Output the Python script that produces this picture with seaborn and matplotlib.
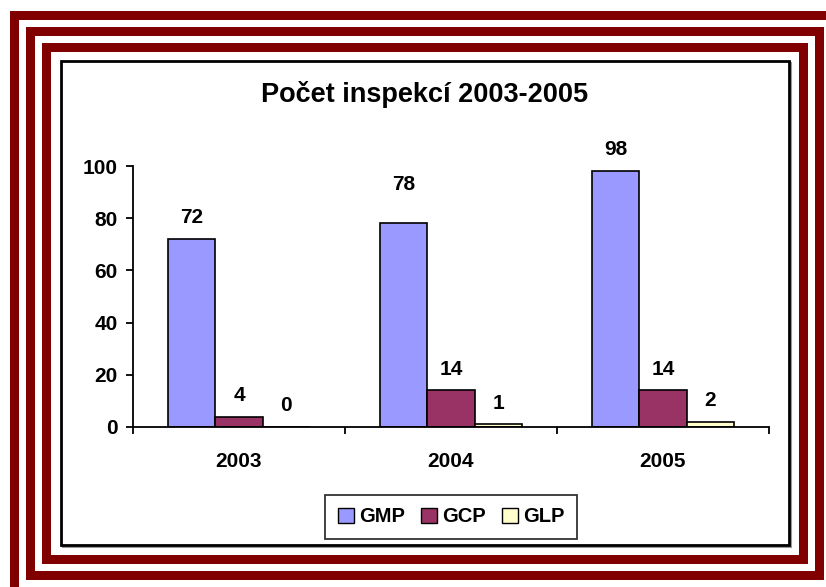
import matplotlib
matplotlib.use("Agg")
import matplotlib.pyplot as plt
from matplotlib.patches import Rectangle
import seaborn as sns
import pandas as pd

# ---- data ----
years = ["2003", "2004", "2005"]
series = ["GMP", "GCP", "GLP"]
gmp = [72, 78, 98]
gcp = [4, 14, 14]
glp = [0, 1, 2]
title = "Počet inspekcí 2003-2005"
yticks = [0, 20, 40, 60, 80, 100]

colors = ["#9999FF", "#993366", "#FFFFCC"]
# extra label offsets (points), per series / per year
label_extra = {("GMP", "2004"): 12.5}

df = pd.DataFrame({
    "year": years * 3,
    "series": [s for s in series for _ in years],
    "value": gmp + gcp + glp,
})

W, H = 826, 587
sns.set_theme(style="white")
plt.rcParams["font.family"] = ["Liberation Sans", "DejaVu Sans"]
plt.rcParams["font.weight"] = "bold"
plt.rcParams["text.color"] = "black"
plt.rcParams["xtick.color"] = "black"
plt.rcParams["ytick.color"] = "black"

fig = plt.figure(figsize=(W / 100, H / 100), dpi=100)
fig.patch.set_facecolor("white")


def px_rect(x0, y0, x1, y1, **kw):
    """rectangle in pixel coords (origin top-left)"""
    r = Rectangle((x0 / W, 1 - y1 / H), (x1 - x0) / W, (y1 - y0) / H,
                  transform=fig.transFigure, zorder=-5, **kw)
    fig.patches.append(r)


def band(x0, y0, x1, y1, t, color, sides="tlbr"):
    if "t" in sides:
        px_rect(x0, y0, x1, y0 + t, color=color, lw=0)
    if "b" in sides:
        px_rect(x0, y1 - t, x1, y1, color=color, lw=0)
    if "l" in sides:
        px_rect(x0, y0, x0 + t, y1, color=color, lw=0)
    if "r" in sides:
        px_rect(x1 - t, y0, x1, y1, color=color, lw=0)


red = "#800000"
band(10, 11, 826, 587, 9, red, sides="tl")
band(26, 27, 824, 580, 9, red)
band(42, 43, 808, 564, 9, red)
# inner black box with grey shadow
px_rect(63, 63, 791, 547, facecolor="none", edgecolor="#999999", lw=1.5)
px_rect(61, 61, 789, 545, facecolor="white", edgecolor="black", lw=2)

ax = fig.add_axes([133 / W, 1 - 427 / H, (769 - 133) / W, (427 - 166) / H])
ax.set_facecolor("none")
ax.set_zorder(2)

sns.barplot(data=df, x="year", y="value", hue="series", palette=colors,
            width=2 / 3, gap=0, edgecolor="black", linewidth=1.2,
            saturation=1, ax=ax, legend=True)

ax.set_xlim(-0.5, 2.5)
ax.set_ylim(0, 100)
ax.set_yticks(yticks)
ax.set_yticklabels([str(v) for v in yticks])
ax.set_xlabel("")
ax.set_ylabel("")

for s in ["top", "right"]:
    ax.spines[s].set_visible(False)
for s in ["left", "bottom"]:
    ax.spines[s].set_color("black")
    ax.spines[s].set_linewidth(1.3)

ax.tick_params(axis="y", which="major", direction="out", length=5, width=1.3,
               color="black", labelsize=15, pad=6, left=True)
ax.tick_params(axis="x", which="major", length=0, labelsize=15, pad=18)
ax.set_xticks([-0.5, 0.5, 1.5, 2.5], minor=True)
ax.tick_params(axis="x", which="minor", direction="out", length=5, width=1.3,
               color="black", bottom=True)
for lab in ax.get_xticklabels() + ax.get_yticklabels():
    lab.set_fontweight("bold")
    lab.set_color("black")

for s, cont in zip(series, ax.containers):
    anns = ax.bar_label(cont, fmt="%d", padding=8.5, fontsize=15,
                        fontweight="bold", color="black")
    for yr, a in zip(years, anns):
        extra = label_extra.get((s, yr), 0)
        if extra:
            a.xyann = (a.xyann[0], a.xyann[1] + extra)

fig.text(425 / W, 1 - 94 / H, title, ha="center", va="center",
         fontsize=19.5, fontweight="bold", color="black")

leg = ax.legend(loc="center", bbox_to_anchor=(451 / W, 1 - 517 / H),
                bbox_transform=fig.transFigure, ncol=3, frameon=True,
                fancybox=False, edgecolor="black", fontsize=14.5,
                handlelength=0.8, handleheight=0.8, handletextpad=0.25,
                columnspacing=0.8, borderpad=0.6, borderaxespad=0)
leg.get_frame().set_linewidth(1.3)
for t in leg.get_texts():
    t.set_fontweight("bold")
    t.set_color("black")
for h in leg.legend_handles:
    h.set_edgecolor("black")
    h.set_linewidth(1.0)

fig.savefig("out.png", dpi=100, facecolor="white")
